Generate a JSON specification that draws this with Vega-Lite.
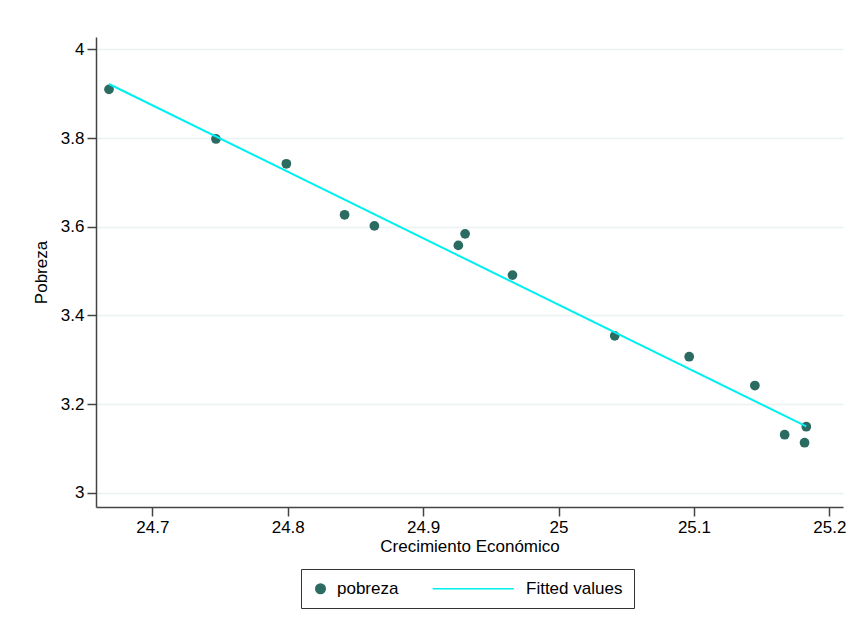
{
  "$schema": "https://vega.github.io/schema/vega-lite/v6.json",
  "width": 747,
  "height": 470,
  "autosize": {"type": "none"},
  "padding": {"left": 96, "top": 37, "right": 10, "bottom": 124},
  "background": "white",
  "config": {
    "view": {"stroke": null},
    "font": "Liberation Sans",
    "axis": {
      "domainColor": "#444444",
      "domainWidth": 1.5,
      "tickColor": "#444444",
      "tickWidth": 1.5,
      "tickSize": 9,
      "labelFontSize": 17,
      "labelColor": "#000000",
      "titleFontSize": 17,
      "titleFontWeight": "normal",
      "titleColor": "#000000",
      "gridColor": "#eaf2f3",
      "gridWidth": 1.5,
      "gridOpacity": 1
    }
  },
  "datasets": {
    "pts": [
      {"crec": 24.668, "pob": 3.910, "series": "pobreza"},
      {"crec": 24.747, "pob": 3.798, "series": "pobreza"},
      {"crec": 24.799, "pob": 3.742, "series": "pobreza"},
      {"crec": 24.842, "pob": 3.627, "series": "pobreza"},
      {"crec": 24.864, "pob": 3.602, "series": "pobreza"},
      {"crec": 24.926, "pob": 3.558, "series": "pobreza"},
      {"crec": 24.931, "pob": 3.584, "series": "pobreza"},
      {"crec": 24.966, "pob": 3.491, "series": "pobreza"},
      {"crec": 25.0415, "pob": 3.354, "series": "pobreza"},
      {"crec": 25.0965, "pob": 3.307, "series": "pobreza"},
      {"crec": 25.145, "pob": 3.242, "series": "pobreza"},
      {"crec": 25.167, "pob": 3.131, "series": "pobreza"},
      {"crec": 25.183, "pob": 3.149, "series": "pobreza"},
      {"crec": 25.1817, "pob": 3.113, "series": "pobreza"}
    ],
    "fit": [
      {"crec": 24.668, "pob": 3.922, "series": "Fitted values"},
      {"crec": 25.183, "pob": 3.150, "series": "Fitted values"}
    ]
  },
  "layer": [
    {
      "data": {"name": "pts"},
      "mark": {"type": "point", "filled": true, "opacity": 1, "size": 95},
      "encoding": {
        "x": {
          "field": "crec", "type": "quantitative",
          "scale": {"domain": [24.6584, 25.2101], "nice": false, "zero": false},
          "axis": {"values": [24.7, 24.8, 24.9, 25, 25.1, 25.2], "format": "~g", "grid": false, "title": "Crecimiento Económico", "titlePadding": 3, "labelPadding": 3}
        },
        "y": {
          "field": "pob", "type": "quantitative",
          "scale": {"domain": [2.968, 4.028], "nice": false, "zero": false},
          "axis": {"values": [3, 3.2, 3.4, 3.6, 3.8, 4], "format": "~g", "grid": true, "title": "Pobreza", "titlePadding": 10, "labelPadding": 3}
        },
        "color": {
          "field": "series", "type": "nominal",
          "scale": {"domain": ["pobreza", "Fitted values"], "range": ["#2c6b62", "#00f0f0"]},
          "legend": {
            "title": null,
            "orient": "none",
            "legendX": 205,
            "legendY": 532,
            "direction": "horizontal",
            "columns": 2,
            "strokeColor": "#333333",
            "padding": 11,
            "columnPadding": 30,
            "labelFontSize": 17,
            "labelColor": "#000000",
            "labelOffset": 8,
            "symbolSize": 90,
            "encode": {
              "symbols": {"update": {"stroke": {"scale": "color", "field": "value"}, "strokeWidth": {"value": 2}}}
            }
          }
        },
        "shape": {
          "field": "series", "type": "nominal",
          "scale": {"domain": ["pobreza", "Fitted values"], "range": ["circle", "M-16.2,0L0.9,0"]}
        }
      }
    },
    {
      "data": {"name": "fit"},
      "mark": {"type": "line", "strokeWidth": 2},
      "encoding": {
        "x": {"field": "crec", "type": "quantitative"},
        "y": {"field": "pob", "type": "quantitative"},
        "color": {"field": "series", "type": "nominal"}
      }
    }
  ]
}
